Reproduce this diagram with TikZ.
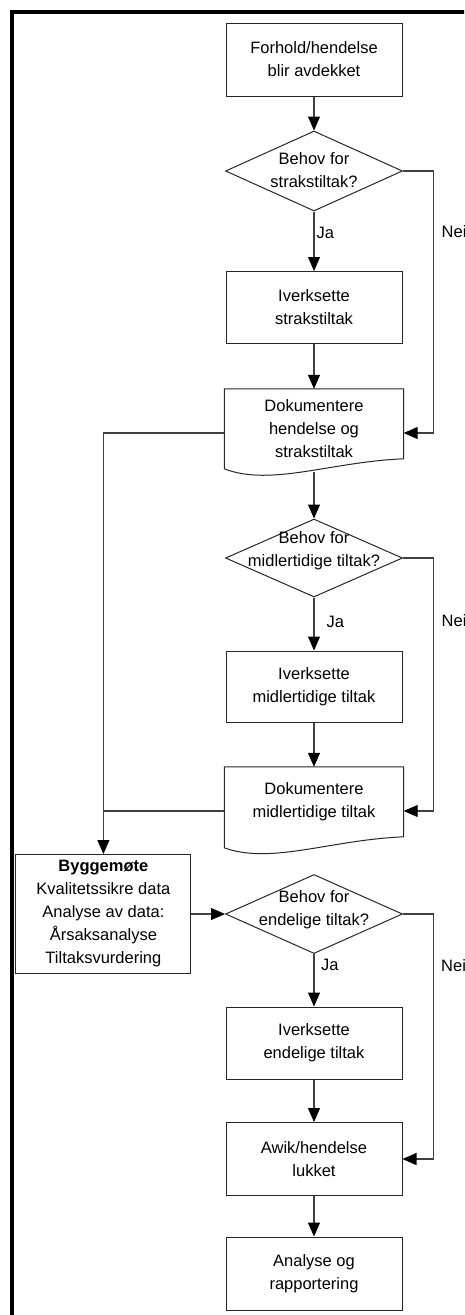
\documentclass[tikz,border=0pt]{standalone}
\usepackage{fontspec}
\setmainfont{Liberation Sans}
\usetikzlibrary{arrows.meta,shapes.geometric}
\newcommand{\myfs}{\fontsize{16.5}{23}\selectfont}
\begin{document}
\begin{tikzpicture}[x=1pt,y=-1pt,
  box/.style={draw=black!85, line width=1pt, minimum width=176pt, align=center, inner sep=0pt, font=\myfs},
  docnode/.style={draw=none, minimum width=179pt, align=center, inner sep=0pt, font=\myfs},
  docline/.style={draw=black!85, line width=1pt},
  dia/.style={draw=black!85, line width=1pt, shape=diamond, inner sep=0pt, minimum width=177pt},
  txt/.style={align=center, inner sep=0pt, font=\myfs},
  lab/.style={inner sep=0pt, anchor=west, font=\myfs},
  conn/.style={draw=black!75, line width=1.1pt},
  arr/.style={conn, -{Triangle[width=12pt,length=14pt,color=black,fill=black]}},
  frame/.style={draw=black, line width=4pt}
]
\useasboundingbox (0,0) rectangle (464,1315);
\clip (0,0) rectangle (464,1315);
\draw[frame] (11.7,1330) -- (11.7,12) -- (480,12);

% nodes
\node[box, minimum height=73pt] (b1) at (314,59.5) {Forhold/hendelse\\blir avdekket};
\node[dia, minimum height=80pt] (d1) at (314,171) {};
\node[txt] (t1) at (314,170) {Behov for\\strakstiltak?};
\node[box, minimum height=72pt] (b2) at (314,307.5) {Iverksette\\strakstiltak};
\node[docnode, minimum height=80pt] (doc1) at (314,429) {Dokumentere\\hendelse og\\strakstiltak};
\draw[docline] (doc1.north west) -- (doc1.north east) -- ([yshift=-70pt]doc1.north east)
  .. controls ([xshift=-73pt,yshift=-73pt]doc1.north east) and ([xshift=-133pt,yshift=-98pt]doc1.north east)
  .. ([yshift=-80pt]doc1.north west) -- cycle;
\node[dia, minimum height=78pt] (d2) at (314,558) {};
\node[txt] (t2) at (314,551) {Behov for\\midlertidige tiltak?};
\node[box, minimum height=71pt] (b3) at (314,686.5) {Iverksette\\midlertidige tiltak};
\node[docnode, minimum height=70pt] (doc2) at (314,802) {Dokumentere\\midlertidige tiltak};
\draw[docline] (doc2.north west) -- (doc2.north east) -- ([yshift=-70pt]doc2.north east)
  .. controls ([xshift=-73pt,yshift=-73pt]doc2.north east) and ([xshift=-133pt,yshift=-98pt]doc2.north east)
  .. ([yshift=-81pt]doc2.north west) -- cycle;
\node[box, minimum width=175pt, minimum height=119pt] (bm) at (103.4,914)
  {\textbf{Byggemøte}\\Kvalitetssikre data\\Analyse av data:\\Årsaksanalyse\\Tiltaksvurdering};
\node[dia, minimum height=79pt] (d3) at (314,914) {};
\node[txt] (t3) at (314,910) {Behov for\\endelige tiltak?};
\node[box, minimum height=72pt] (b4) at (314,1043) {Iverksette\\endelige tiltak};
\node[box, minimum height=73pt] (b5) at (314,1159) {Awik/hendelse\\lukket};
\node[box, minimum height=73pt] (b6) at (314,1273.5) {Analyse og\\rapportering};

% labels
\node[lab] (ja1) at (316.5,233) {Ja};
\node[lab] (ja2) at (326.5,622) {Ja};
\node[lab] (ja3) at (321,965) {Ja};
\node[lab] (nei1) at (441.5,232) {Nei};
\node[lab] (nei2) at (441.5,621) {Nei};
\node[lab] (nei3) at (441,966) {Nei};

% helper coordinates
\coordinate (rx) at (433.5,0);
\coordinate (d1e) at ([yshift=-4pt]doc1.east);
\coordinate (d1w) at ([yshift=-4pt]doc1.west);
\coordinate (d1s) at ([yshift=-3pt]doc1.south);
\coordinate (d2e) at ([yshift=-9pt]doc2.east);
\coordinate (d2w) at ([yshift=-9pt]doc2.west);

% connectors
\draw[arr] (b1.south) -- (d1.north);
\draw[arr] (d1.south) -- (b2.north);
\draw[arr] (b2.south) -- (doc1.north);
\draw[arr] (d1.east) -- (d1.east -| rx) -- (rx |- d1e) -- (d1e);
\draw[arr] (d1s) -- (d2.north);
\draw[arr] (d2.south) -- (b3.north);
\draw[arr] (b3.south) -- (doc2.north);
\draw[arr] (d2.east) -- (d2.east -| rx) -- (rx |- d2e) -- (d2e);
\draw[arr] (d1w) -| (bm.north);
\draw[conn] (d2w) -- (d2w -| bm.north);
\draw[arr] (bm.east) -- (d3.west);
\draw[arr] (d3.south) -- (b4.north);
\draw[arr] (b4.south) -- (b5.north);
\draw[arr] (d3.east) -- (d3.east -| rx) -- (rx |- b5.east) -- (b5.east);
\draw[arr] (b5.south) -- (b6.north);
\end{tikzpicture}
\end{document}
